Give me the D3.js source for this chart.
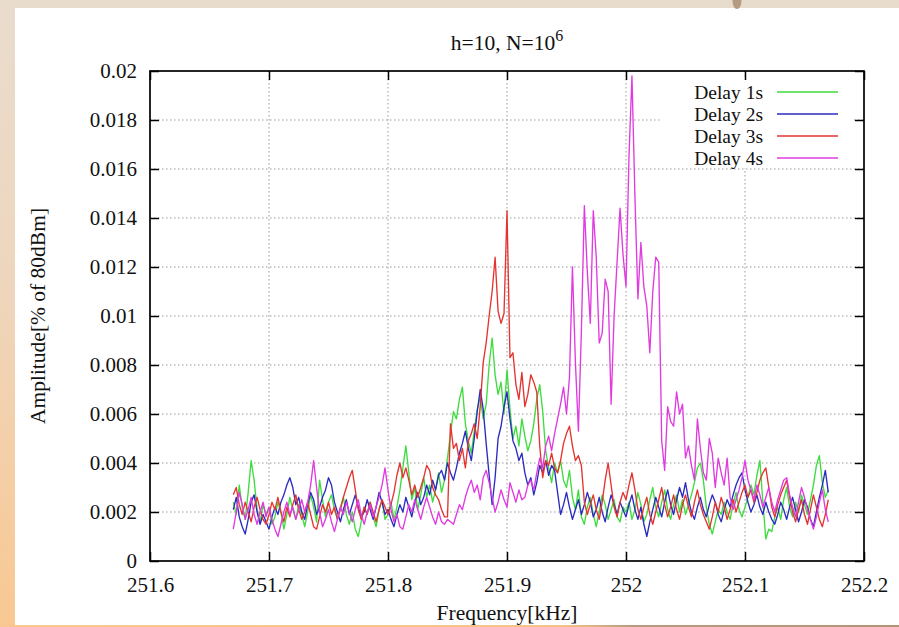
<!DOCTYPE html>
<html>
<head>
<meta charset="utf-8">
<script src="https://cdn.jsdelivr.net/npm/d3@7"></script>
<style>
  html, body { margin: 0; padding: 0; background: #e8dccd; }
  svg { display: block; }
  text { font-family: "Liberation Serif", "Times New Roman", serif; fill: #111; }
</style>
</head>
<body>
<svg id="chart" width="899" height="627"></svg>
<script>
// Sweep frequencies (kHz)
const frequency = [
  251.67, 251.6725, 251.675, 251.6775, 251.68, 251.6825, 251.685, 251.6875, 251.69, 251.6925, 251.695, 251.6975,
  251.7, 251.7025, 251.705, 251.7075, 251.71, 251.7125, 251.715, 251.7175, 251.72, 251.7225, 251.725, 251.7275, 251.73, 251.7325, 251.735, 251.7375, 251.74, 251.7425, 251.745, 251.7475,
  251.75, 251.7525, 251.755, 251.7575, 251.76, 251.7625, 251.765, 251.7675, 251.77, 251.7725, 251.775, 251.7775, 251.78, 251.7825, 251.785, 251.7875, 251.79, 251.7925, 251.795, 251.7975,
  251.8, 251.8025, 251.805, 251.8075, 251.81, 251.8125, 251.815, 251.8175, 251.82, 251.8225, 251.825, 251.8275, 251.83, 251.8325, 251.835, 251.8375, 251.84, 251.8425, 251.845, 251.8475,
  251.85, 251.8525, 251.855, 251.8575, 251.86, 251.8625, 251.865, 251.8675, 251.87, 251.8725, 251.875, 251.8775, 251.88, 251.8825, 251.885, 251.8875, 251.89, 251.8925, 251.895, 251.8975,
  251.9, 251.9025, 251.905, 251.9075, 251.91, 251.9125, 251.915, 251.9175, 251.92, 251.9225, 251.925, 251.9275, 251.93, 251.9325, 251.935, 251.9375, 251.94, 251.9425, 251.945, 251.9475,
  251.95, 251.9525, 251.955, 251.9575, 251.96, 251.9625, 251.965, 251.9675, 251.97, 251.9725, 251.975, 251.9775, 251.98, 251.9825, 251.985, 251.9875, 251.99, 251.9925, 251.995, 251.9975,
  252.0, 252.0025, 252.005, 252.0075, 252.01, 252.0125, 252.015, 252.0175, 252.02, 252.0225, 252.025, 252.0275, 252.03, 252.0325, 252.035, 252.0375, 252.04, 252.0425, 252.045, 252.0475,
  252.05, 252.0525, 252.055, 252.0575, 252.06, 252.0625, 252.065, 252.0675, 252.07, 252.0725, 252.075, 252.0775, 252.08, 252.0825, 252.085, 252.0875, 252.09, 252.0925, 252.095, 252.0975,
  252.1, 252.1025, 252.105, 252.1075, 252.11, 252.1125, 252.115, 252.1175, 252.12, 252.1225, 252.125, 252.1275, 252.13, 252.1325, 252.135, 252.1375, 252.14, 252.1425, 252.145, 252.1475,
  252.15, 252.1525, 252.155, 252.1575, 252.16, 252.1625, 252.165, 252.1675, 252.17
];

// Amplitude [% of 80dBm] for each delay
const delay1s = [
  0.0024, 0.0019, 0.0031, 0.0022, 0.0017, 0.0028, 0.0041, 0.0033, 0.0021, 0.0016, 0.0023, 0.0019,
  0.0022, 0.0015, 0.0018, 0.0024, 0.0020, 0.0013, 0.0019, 0.0026, 0.0021, 0.0017, 0.0023, 0.0019, 0.0014, 0.0020, 0.0027, 0.0022, 0.0016, 0.0033, 0.0025, 0.0018,
  0.0024, 0.0027, 0.0021, 0.0017, 0.0022, 0.0026, 0.0019, 0.0015, 0.0020, 0.0013, 0.0010, 0.0016, 0.0022, 0.0019, 0.0024, 0.0018, 0.0014, 0.0021, 0.0025, 0.0017,
  0.0019, 0.0024, 0.0017, 0.0022, 0.0029, 0.0038, 0.0047, 0.0036, 0.0025, 0.0030, 0.0021, 0.0027, 0.0034, 0.0026, 0.0031, 0.0024, 0.0029, 0.0036, 0.0028, 0.0033,
  0.0042, 0.0052, 0.0061, 0.0058, 0.0066, 0.0071, 0.0056, 0.0049, 0.0044, 0.0053, 0.0062, 0.0067, 0.0058, 0.0064, 0.0080, 0.0091, 0.0076, 0.0068, 0.0073, 0.0060,
  0.0078, 0.0062, 0.0050, 0.0055, 0.0047, 0.0058, 0.0051, 0.0045, 0.0049, 0.0056, 0.0066, 0.0072, 0.0061, 0.0045, 0.0038, 0.0032, 0.0040, 0.0036, 0.0041, 0.0033,
  0.0030, 0.0037, 0.0026, 0.0021, 0.0029, 0.0018, 0.0015, 0.0022, 0.0026, 0.0019, 0.0014, 0.0020, 0.0027, 0.0023, 0.0017, 0.0021, 0.0025, 0.0018, 0.0016, 0.0022,
  0.0020, 0.0024, 0.0017, 0.0021, 0.0028, 0.0023, 0.0016, 0.0019, 0.0025, 0.0030, 0.0022, 0.0018, 0.0024, 0.0029, 0.0021, 0.0017, 0.0023, 0.0027, 0.0020, 0.0025,
  0.0019, 0.0023, 0.0027, 0.0032, 0.0038, 0.0040, 0.0033, 0.0022, 0.0015, 0.0011, 0.0016, 0.0021, 0.0019, 0.0024, 0.0020, 0.0017, 0.0023, 0.0028, 0.0021, 0.0018,
  0.0022, 0.0026, 0.0031, 0.0027, 0.0035, 0.0041, 0.0024, 0.0009, 0.0013, 0.0012, 0.0018, 0.0022, 0.0017, 0.0025, 0.0030, 0.0022, 0.0018, 0.0024, 0.0020, 0.0027,
  0.0023, 0.0019, 0.0025, 0.0031, 0.0039, 0.0043, 0.0032, 0.0026, 0.0029
];
const delay2s = [
  0.0021, 0.0026, 0.0018, 0.0014, 0.0011, 0.0017, 0.0024, 0.0027, 0.0020, 0.0015, 0.0019, 0.0016,
  0.0013, 0.0018, 0.0022, 0.0019, 0.0024, 0.0027, 0.0031, 0.0034, 0.0030, 0.0023, 0.0026, 0.0020, 0.0017, 0.0023, 0.0028, 0.0025, 0.0019, 0.0022, 0.0026, 0.0029,
  0.0034, 0.0031, 0.0024, 0.0020, 0.0016, 0.0021, 0.0025, 0.0019, 0.0023, 0.0027, 0.0022, 0.0018, 0.0020, 0.0025, 0.0021, 0.0017, 0.0022, 0.0028, 0.0024, 0.0019,
  0.0021, 0.0017, 0.0014, 0.0019, 0.0023, 0.0020, 0.0026, 0.0022, 0.0018, 0.0024, 0.0028, 0.0023, 0.0026, 0.0031, 0.0027, 0.0033, 0.0029, 0.0035, 0.0037, 0.0033,
  0.0040, 0.0036, 0.0033, 0.0038, 0.0044, 0.0048, 0.0053, 0.0046, 0.0041, 0.0050, 0.0061, 0.0070, 0.0062, 0.0048, 0.0035, 0.0023, 0.0034, 0.0050, 0.0055, 0.0063,
  0.0069, 0.0058, 0.0049, 0.0046, 0.0041, 0.0044, 0.0036, 0.0031, 0.0034, 0.0027, 0.0032, 0.0039, 0.0036, 0.0041, 0.0035, 0.0039, 0.0037, 0.0028, 0.0019, 0.0023,
  0.0028, 0.0022, 0.0017, 0.0021, 0.0025, 0.0019, 0.0023, 0.0028, 0.0024, 0.0018, 0.0021, 0.0026, 0.0020, 0.0016, 0.0022, 0.0027, 0.0023, 0.0019, 0.0024, 0.0021,
  0.0018, 0.0023, 0.0027, 0.0021, 0.0017, 0.0022, 0.0015, 0.0010, 0.0016, 0.0021, 0.0026, 0.0022, 0.0018, 0.0024, 0.0029, 0.0023, 0.0019, 0.0025, 0.0030, 0.0026,
  0.0032, 0.0025, 0.0020, 0.0017, 0.0022, 0.0026, 0.0021, 0.0018, 0.0023, 0.0027, 0.0024, 0.0019, 0.0016, 0.0021, 0.0025, 0.0022, 0.0027, 0.0031, 0.0034, 0.0036,
  0.0029, 0.0024, 0.0020, 0.0023, 0.0027, 0.0022, 0.0019, 0.0024, 0.0020, 0.0017, 0.0015, 0.0019, 0.0024, 0.0021, 0.0017, 0.0022, 0.0026, 0.0021, 0.0016, 0.0020,
  0.0025, 0.0022, 0.0017, 0.0014, 0.0020, 0.0026, 0.0031, 0.0037, 0.0028
];
const delay3s = [
  0.0027, 0.0030, 0.0023, 0.0019, 0.0024, 0.0020, 0.0016, 0.0022, 0.0026, 0.0021, 0.0017, 0.0015,
  0.0019, 0.0024, 0.0021, 0.0026, 0.0020, 0.0016, 0.0022, 0.0018, 0.0023, 0.0027, 0.0021, 0.0017, 0.0020, 0.0024, 0.0019, 0.0014, 0.0013, 0.0018, 0.0023, 0.0020,
  0.0024, 0.0019, 0.0022, 0.0017, 0.0021, 0.0026, 0.0030, 0.0034, 0.0037, 0.0029, 0.0021, 0.0017, 0.0022, 0.0019, 0.0024, 0.0020, 0.0016, 0.0021, 0.0025, 0.0022,
  0.0019, 0.0023, 0.0028, 0.0035, 0.0040, 0.0034, 0.0038, 0.0033, 0.0027, 0.0031, 0.0026, 0.0030, 0.0034, 0.0039, 0.0037, 0.0030, 0.0027, 0.0025, 0.0021, 0.0018,
  0.0018, 0.0056, 0.0046, 0.0048, 0.0041, 0.0046, 0.0038, 0.0049, 0.0052, 0.0056, 0.0050, 0.0063, 0.0081, 0.0089, 0.0100, 0.0110, 0.0124, 0.0102, 0.0097, 0.0101,
  0.0143, 0.0083, 0.0085, 0.0072, 0.0066, 0.0077, 0.0063, 0.0068, 0.0076, 0.0073, 0.0069, 0.0047, 0.0034, 0.0041, 0.0039, 0.0044, 0.0038, 0.0036, 0.0041, 0.0048,
  0.0052, 0.0055, 0.0047, 0.0041, 0.0043, 0.0039, 0.0024, 0.0019, 0.0023, 0.0027, 0.0021, 0.0017, 0.0024, 0.0033, 0.0040, 0.0031, 0.0022, 0.0018, 0.0024, 0.0028,
  0.0025, 0.0031, 0.0036, 0.0029, 0.0021, 0.0017, 0.0022, 0.0026, 0.0019, 0.0015, 0.0020, 0.0025, 0.0030, 0.0023, 0.0018, 0.0022, 0.0027, 0.0021, 0.0017, 0.0023,
  0.0027, 0.0022, 0.0018, 0.0024, 0.0029, 0.0023, 0.0019, 0.0016, 0.0013, 0.0018, 0.0024, 0.0020, 0.0026, 0.0022, 0.0017, 0.0021, 0.0025, 0.0020, 0.0024, 0.0028,
  0.0031, 0.0026, 0.0029, 0.0024, 0.0028, 0.0033, 0.0036, 0.0038, 0.0030, 0.0022, 0.0018, 0.0023, 0.0027, 0.0030, 0.0033, 0.0026, 0.0020, 0.0016, 0.0021, 0.0025,
  0.0019, 0.0015, 0.0021, 0.0027, 0.0022, 0.0017, 0.0014, 0.0019, 0.0025
];
const delay4s = [
  0.0013, 0.0020, 0.0028, 0.0023, 0.0017, 0.0021, 0.0026, 0.0019, 0.0015, 0.0020, 0.0024, 0.0018,
  0.0022, 0.0017, 0.0013, 0.0010, 0.0015, 0.0020, 0.0024, 0.0019, 0.0022, 0.0017, 0.0021, 0.0025, 0.0020, 0.0024, 0.0031, 0.0041, 0.0030, 0.0020, 0.0014, 0.0017,
  0.0021, 0.0016, 0.0012, 0.0017, 0.0022, 0.0019, 0.0024, 0.0020, 0.0016, 0.0021, 0.0025, 0.0019, 0.0015, 0.0020, 0.0023, 0.0018, 0.0022, 0.0026, 0.0031, 0.0038,
  0.0029, 0.0021, 0.0016, 0.0019, 0.0014, 0.0013, 0.0018, 0.0023, 0.0020, 0.0025, 0.0021, 0.0017, 0.0022, 0.0026, 0.0022, 0.0018, 0.0015, 0.0020, 0.0016, 0.0015,
  0.0017, 0.0016, 0.0015, 0.0019, 0.0023, 0.0021, 0.0026, 0.0030, 0.0033, 0.0028, 0.0031, 0.0025, 0.0034, 0.0037, 0.0032, 0.0026, 0.0020, 0.0024, 0.0029, 0.0025,
  0.0022, 0.0032, 0.0028, 0.0024, 0.0029, 0.0025, 0.0026, 0.0031, 0.0033, 0.0029, 0.0036, 0.0042, 0.0038, 0.0047, 0.0051, 0.0045, 0.0052, 0.0058, 0.0064, 0.0071,
  0.0060, 0.0075, 0.0120, 0.0081, 0.0053, 0.0094, 0.0145, 0.0118, 0.0097, 0.0143, 0.0124, 0.0089, 0.0093, 0.0115, 0.0110, 0.0064, 0.0100, 0.0122, 0.0144, 0.0125,
  0.0112, 0.0165, 0.0198, 0.0149, 0.0107, 0.0130, 0.0112, 0.0104, 0.0085, 0.0110, 0.0124, 0.0122, 0.0049, 0.0037, 0.0063, 0.0057, 0.0055, 0.0069, 0.0060, 0.0064,
  0.0042, 0.0047, 0.0039, 0.0033, 0.0058, 0.0046, 0.0036, 0.0033, 0.0050, 0.0044, 0.0030, 0.0042, 0.0036, 0.0031, 0.0042, 0.0026, 0.0021, 0.0025, 0.0029, 0.0034,
  0.0041, 0.0033, 0.0029, 0.0025, 0.0031, 0.0027, 0.0022, 0.0026, 0.0030, 0.0024, 0.0020, 0.0025, 0.0029, 0.0033, 0.0034, 0.0027, 0.0022, 0.0018, 0.0024, 0.0030,
  0.0026, 0.0021, 0.0017, 0.0013, 0.0018, 0.0024, 0.0029, 0.0021, 0.0016
];

const seriesNames = ["Delay 1s", "Delay 2s", "Delay 3s", "Delay 4s"];
const seriesValues = [delay1s, delay2s, delay3s, delay4s];
const seriesColors = ["#3fdc3f", "#2b2bc2", "#e5342f", "#e03be0"];

const xTickValues = [251.6, 251.7, 251.8, 251.9, 252.0, 252.1, 252.2];
const xTickLabels = ["251.6", "251.7", "251.8", "251.9", "252", "252.1", "252.2"];
const yTickValues = [0, 0.002, 0.004, 0.006, 0.008, 0.01, 0.012, 0.014, 0.016, 0.018, 0.02];
const yTickLabels = ["0", "0.002", "0.004", "0.006", "0.008", "0.01", "0.012", "0.014", "0.016", "0.018", "0.02"];

const W = 899, H = 627;
const plot = { left: 150, right: 864, top: 71, bottom: 561 };
const fontSize = 21.5, tickFontSize = 21, legendFontSize = 19.5;

const svg = d3.select("#chart");
const defs = svg.append("defs");

// Slide backdrop
const sideGrad = defs.append("linearGradient").attr("id", "sideGrad")
  .attr("x1", 0).attr("y1", 0).attr("x2", 0).attr("y2", 1);
sideGrad.append("stop").attr("offset", "0%").attr("stop-color", "#e9dccd");
sideGrad.append("stop").attr("offset", "45%").attr("stop-color", "#eed6bd");
sideGrad.append("stop").attr("offset", "100%").attr("stop-color", "#f9c892");

const footGrad = defs.append("linearGradient").attr("id", "footGrad")
  .attr("x1", 0).attr("y1", 0).attr("x2", 1).attr("y2", 0);
footGrad.append("stop").attr("offset", "0%").attr("stop-color", "#f9c892");
footGrad.append("stop").attr("offset", "62%").attr("stop-color", "#f4c28c");
footGrad.append("stop").attr("offset", "70%").attr("stop-color", "#b99a7b");
footGrad.append("stop").attr("offset", "100%").attr("stop-color", "#b39476");

svg.append("rect").attr("width", W).attr("height", H).attr("fill", "#e8dccd");
svg.append("rect").attr("x", 0).attr("y", 0).attr("width", 15).attr("height", H).attr("fill", "url(#sideGrad)");
svg.append("rect").attr("x", 15).attr("y", 8).attr("width", W - 15).attr("height", 617).attr("fill", "#ffffff");
svg.append("rect").attr("x", 15).attr("y", 625).attr("width", W - 15).attr("height", 2).attr("fill", "url(#footGrad)");
svg.append("ellipse").attr("cx", 737).attr("cy", 1).attr("rx", 4.5).attr("ry", 8).attr("fill", "#b39a80");

const x = d3.scaleLinear().domain([251.6, 252.2]).range([plot.left, plot.right]);
const y = d3.scaleLinear().domain([0, 0.02]).range([plot.bottom, plot.top]);

// Dotted grid at interior ticks
const grid = svg.append("g").attr("stroke", "#9a9a9a").attr("stroke-width", 1)
  .attr("stroke-dasharray", "1.5,2.5");
grid.selectAll("line.gx").data(xTickValues.slice(1, -1)).join("line")
  .attr("x1", d => x(d)).attr("x2", d => x(d))
  .attr("y1", plot.top).attr("y2", plot.bottom);
grid.selectAll("line.gy").data(yTickValues.slice(1, -1)).join("line")
  .attr("x1", plot.left).attr("x2", plot.right)
  .attr("y1", d => y(d)).attr("y2", d => y(d));

// Data traces
const line = d3.line().x(d => x(d[0])).y(d => y(d[1]));
const traces = svg.append("g").attr("fill", "none");
seriesValues.forEach((vals, k) => {
  const pts = frequency.map((f, i) => [f, vals[i]]).filter(p => p[1] != null);
  traces.append("path")
    .attr("d", line(pts))
    .attr("stroke", seriesColors[k])
    .attr("stroke-width", 1.35)
    .attr("stroke-linejoin", "round");
});

// Legend box
const legendTextX = 763, legendLineX1 = 777, legendLineX2 = 838;
const legendY0 = 92, legendDy = 22;
const legend = svg.append("g");
legend.append("rect").attr("x", 662).attr("y", 79).attr("width", 190).attr("height", 89).attr("fill", "#fff");
seriesNames.forEach((name, k) => {
  const ly = legendY0 + k * legendDy;
  legend.append("text").attr("x", legendTextX).attr("y", ly).attr("dy", "0.35em")
    .attr("text-anchor", "end").attr("font-size", legendFontSize).text(name);
  legend.append("line").attr("x1", legendLineX1).attr("x2", legendLineX2)
    .attr("y1", ly).attr("y2", ly).attr("stroke", seriesColors[k]).attr("stroke-width", 1.4);
});

// Axes with inward ticks on all four sides
const tickLen = 9;
function styleAxis(g) {
  g.select(".domain").remove();
  g.selectAll(".tick line").attr("stroke", "#000").attr("stroke-width", 1.5);
  g.selectAll(".tick text").attr("font-family", "Liberation Serif, serif").attr("font-size", tickFontSize).attr("fill", "#111");
}
svg.append("g").attr("transform", `translate(0,${plot.bottom})`)
  .call(d3.axisBottom(x).tickValues(xTickValues).tickSize(-tickLen).tickPadding(16)
    .tickFormat((d, i) => xTickLabels[i]))
  .call(styleAxis);
svg.append("g").attr("transform", `translate(0,${plot.top})`)
  .call(d3.axisTop(x).tickValues(xTickValues).tickSize(-tickLen).tickFormat(() => ""))
  .call(styleAxis);
svg.append("g").attr("transform", `translate(${plot.left},0)`)
  .call(d3.axisLeft(y).tickValues(yTickValues).tickSize(-tickLen).tickPadding(13)
    .tickFormat((d, i) => yTickLabels[i]))
  .call(styleAxis);
svg.append("g").attr("transform", `translate(${plot.right},0)`)
  .call(d3.axisRight(y).tickValues(yTickValues).tickSize(-tickLen).tickFormat(() => ""))
  .call(styleAxis);

// Frame
svg.append("rect").attr("x", plot.left).attr("y", plot.top)
  .attr("width", plot.right - plot.left).attr("height", plot.bottom - plot.top)
  .attr("fill", "none").attr("stroke", "#000").attr("stroke-width", 1.7);

// Title and axis labels
const cx = (plot.left + plot.right) / 2;
const title = svg.append("text").attr("x", cx).attr("y", 50).attr("text-anchor", "middle").attr("font-size", fontSize);
title.append("tspan").text("h=10, N=10");
title.append("tspan").attr("dy", -9).attr("font-size", 16).text("6");

svg.append("text").attr("x", cx).attr("y", 620).attr("text-anchor", "middle").attr("font-size", fontSize)
  .text("Frequency[kHz]");
svg.append("text")
  .attr("transform", `translate(45,${(plot.top + plot.bottom) / 2}) rotate(-90)`)
  .attr("text-anchor", "middle").attr("font-size", fontSize)
  .text("Amplitude[% of 80dBm]");
</script>
</body>
</html>
